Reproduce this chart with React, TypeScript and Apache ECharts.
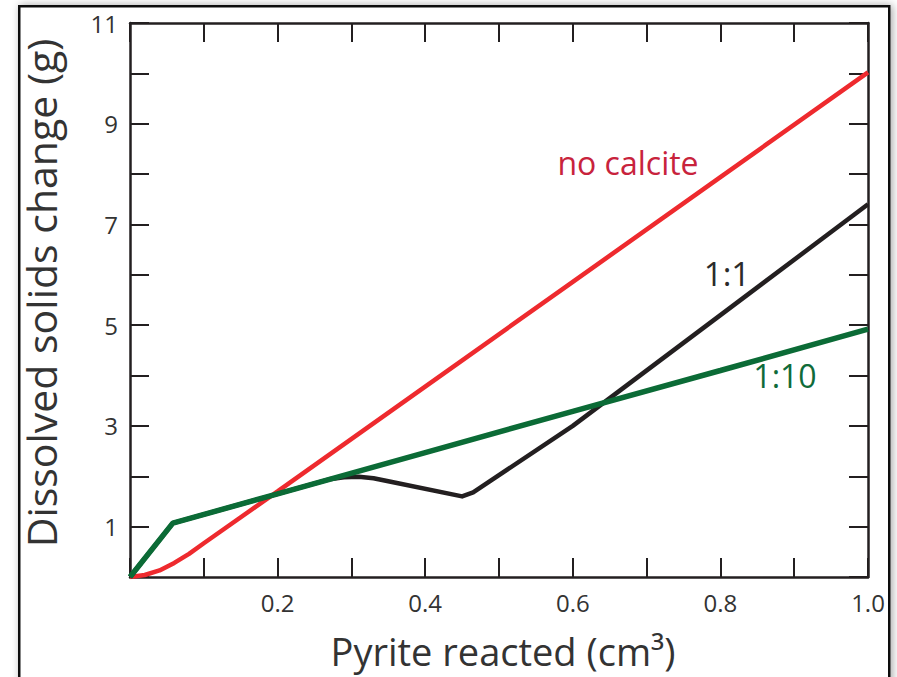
import React, { useEffect, useRef } from "react";
import * as echarts from "echarts";

const noCalcite: [number, number][] = [
  [0, 0], [0.02, 0.04], [0.04, 0.13], [0.06, 0.28], [0.08, 0.46], [0.1, 0.67],
  [0.2, 1.7], [0.4, 3.78], [0.6, 5.86], [0.8, 7.94], [1.0, 10.02],
];
const ratio1to1: [number, number][] = [
  [0, 0], [0.058, 1.07], [0.2, 1.65], [0.27, 1.94], [0.29, 1.98], [0.31, 1.99], [0.33, 1.96],
  [0.35, 1.9], [0.45, 1.6], [0.465, 1.68], [0.6, 3.0], [0.8, 5.2], [1.0, 7.4],
];
const ratio1to10: [number, number][] = [
  [0, 0], [0.058, 1.07], [0.2, 1.65], [0.4, 2.47], [0.6, 3.29], [0.8, 4.1], [1.0, 4.92],
];
const xLabels = ["0.2", "0.4", "0.6", "0.8", "1.0"];
const yLabels = ["1", "3", "5", "7", "9", "11"];
const seriesNames = ["no calcite", "1:1", "1:10"];

const FONT = "'Open Sans', 'Noto Sans', sans-serif";
const AXIS = "#231f20";
const TXT = "#333333";

export default function App() {
  const ref = useRef<HTMLDivElement>(null);
  useEffect(() => {
    if (!ref.current) return;
    const chart = echarts.init(ref.current, undefined, { renderer: "svg" });
    const grid = { left: 130, top: 23, width: 738, height: 554 };
    const tick = { inside: true, length: 19, lineStyle: { color: AXIS, width: 2 } };
    const line = { show: true, onZero: false, lineStyle: { color: AXIS, width: 2.5 } };
    const xFmt = (v: number) => {
      const s = v.toFixed(1);
      return xLabels.includes(s) ? s : "";
    };
    const yFmt = (v: number) => {
      const s = String(Math.round(v));
      return yLabels.includes(s) ? s : "";
    };
    chart.setOption({
      animation: false,
      grid,
      xAxis: [
        {
          type: "value", min: 0, max: 1, interval: 0.1, position: "bottom",
          axisLine: line, axisTick: tick, splitLine: { show: false },
          axisLabel: {
            formatter: xFmt, color: TXT, fontSize: 24, fontFamily: FONT, margin: 13,
            showMinLabel: true, showMaxLabel: true,
          },
        },
        {
          type: "value", min: 0, max: 1, interval: 0.1, position: "top",
          axisLine: line, axisTick: tick, splitLine: { show: false },
          axisLabel: { show: false },
        },
      ],
      yAxis: [
        {
          type: "value", min: 0, max: 11, interval: 1, position: "left",
          axisLine: line, axisTick: tick, splitLine: { show: false },
          axisLabel: {
            formatter: yFmt, color: TXT, fontSize: 24, fontFamily: FONT, margin: 12,
            showMinLabel: true, showMaxLabel: true,
          },
        },
        {
          type: "value", min: 0, max: 11, interval: 1, position: "right",
          axisLine: line, axisTick: tick, splitLine: { show: false },
          axisLabel: { show: false },
        },
      ],
      series: [
        {
          name: seriesNames[0], type: "line", data: noCalcite, showSymbol: false, symbol: "none",
          lineStyle: { color: "#ee2a2e", width: 4.5 }, z: 2,
        },
        {
          name: seriesNames[1], type: "line", data: ratio1to1, showSymbol: false, symbol: "none",
          lineStyle: { color: "#231f20", width: 4.5, join: "round" }, z: 3,
        },
        {
          name: seriesNames[2], type: "line", data: ratio1to10, showSymbol: false, symbol: "none",
          lineStyle: { color: "#0b6b36", width: 5.5 }, z: 4,
        },
      ],
      graphic: [
        {
          type: "rect", left: 18, top: 5, z: -10, silent: true,
          shape: { width: 870, height: 690 },
          style: { fill: "#ffffff", stroke: "#111111", lineWidth: 2.5, shadowBlur: 8, shadowColor: "rgba(0,0,0,0.35)", shadowOffsetX: 2, shadowOffsetY: 0 },
        },
        {
          type: "text", x: 503, y: 651,
          style: { text: "Pyrite reacted (cm³)", font: `38px ${FONT}`, fill: TXT, textAlign: "center", textVerticalAlign: "middle", align: "center", verticalAlign: "middle" },
        },
        {
          type: "text", x: 41, y: 293, rotation: Math.PI / 2,
          style: { text: "Dissolved solids change (g)", font: `41px ${FONT}`, fill: TXT, textAlign: "center", textVerticalAlign: "middle", align: "center", verticalAlign: "middle" },
        },
        {
          type: "text", x: 628, y: 162,
          style: { text: seriesNames[0], font: `32px ${FONT}`, fill: "#c8233c", textAlign: "center", textVerticalAlign: "middle", align: "center", verticalAlign: "middle" },
        },
        {
          type: "text", x: 727, y: 273,
          style: { text: seriesNames[1], font: `33px ${FONT}`, fill: "#2b2b2b", textAlign: "center", textVerticalAlign: "middle", align: "center", verticalAlign: "middle" },
        },
        {
          type: "text", x: 785, y: 375,
          style: { text: seriesNames[2], font: `32px ${FONT}`, fill: "#0f6b3a", textAlign: "center", textVerticalAlign: "middle", align: "center", verticalAlign: "middle" },
        },
      ],
    });
    return () => chart.dispose();
  }, []);
  return (
    <div
      ref={ref}
      style={{ position: "absolute", left: 0, top: 0, width: 897, height: 677, background: "#ffffff" }}
    />
  );
}
